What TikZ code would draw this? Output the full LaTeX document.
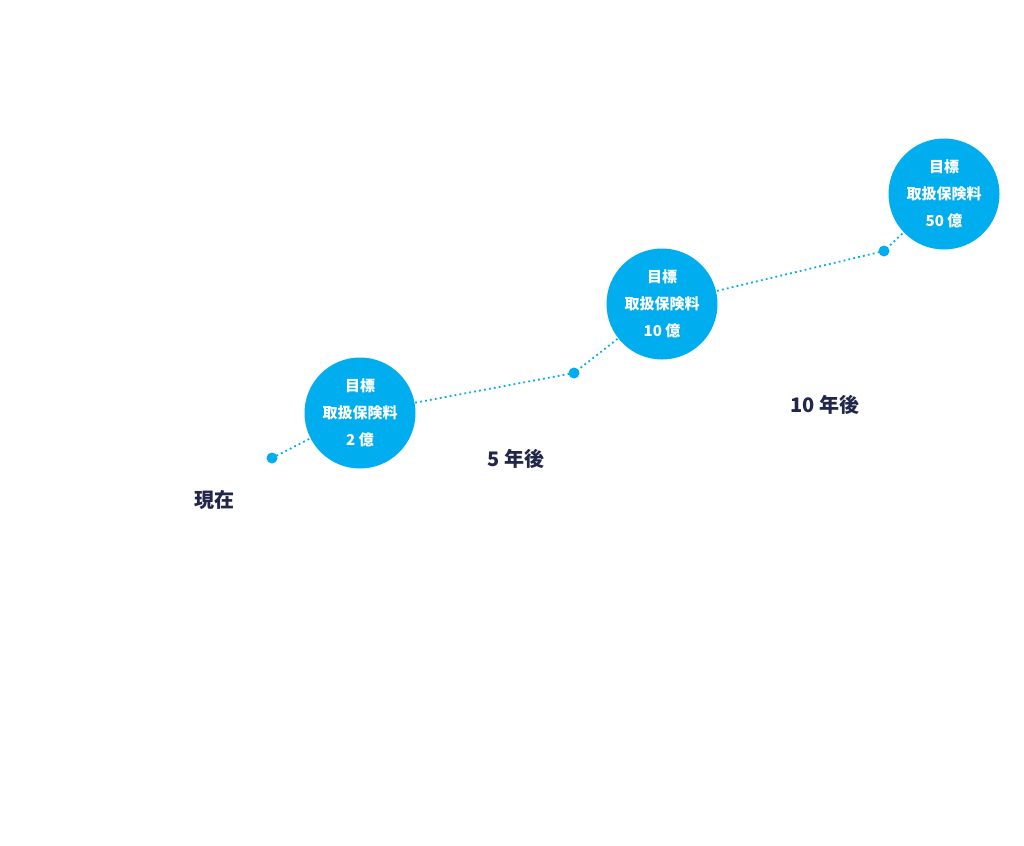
\documentclass[tikz,border=0pt]{standalone}
\usepackage{fontspec}
\setmainfont{Noto Sans CJK JP}
\usepackage{xcolor}
\definecolor{goalblue}{HTML}{00AEEF}
\definecolor{labelnavy}{HTML}{22264B}
\tikzset{
  goal/.style={circle, fill=goalblue, minimum size=111pt, inner sep=0pt,
    text=white, font=\fontsize{15}{27}\selectfont\bfseries, align=center},
  milestone/.style={circle, fill=goalblue, minimum size=11pt, inner sep=0pt},
  yearlabel/.style={text=labelnavy, font=\fontsize{20}{24}\selectfont\bfseries},
  trend/.style={goalblue, line width=1.8pt, dash pattern=on 1.8pt off 3.2pt}
}
\begin{document}
\begin{tikzpicture}[x=1pt, y=-1pt]
    \useasboundingbox (0,0) rectangle (1024,845);
    \coordinate (now) at (272,458);
    \coordinate (five) at (574,373);
    \coordinate (ten) at (884,251);
    \coordinate (g1) at (360,413);
    \coordinate (g2) at (662,304);
    \coordinate (g3) at (944,194);
    % dotted trend line, under the circles
    \draw[trend] (now) -- (g1) -- (five) -- (g2) -- (ten) -- (g3);
    \node[milestone] (nowdot) at (now) {};
    \node[milestone] (fivedot) at (five) {};
    \node[milestone] (tendot) at (ten) {};
    \node[goal] (goal1) at (g1) {目標\\取扱保険料\\2 億};
    \node[goal] (goal2) at (g2) {目標\\取扱保険料\\10 億};
    \node[goal] (goal3) at (g3) {目標\\取扱保険料\\50 億};
    \node[yearlabel] (nowlabel) at (214,500) {現在};
    \node[yearlabel] (fivelabel) at (516,459) {5 年後};
    \node[yearlabel] (tenlabel) at (825,405) {10 年後};
\end{tikzpicture}
\end{document}
